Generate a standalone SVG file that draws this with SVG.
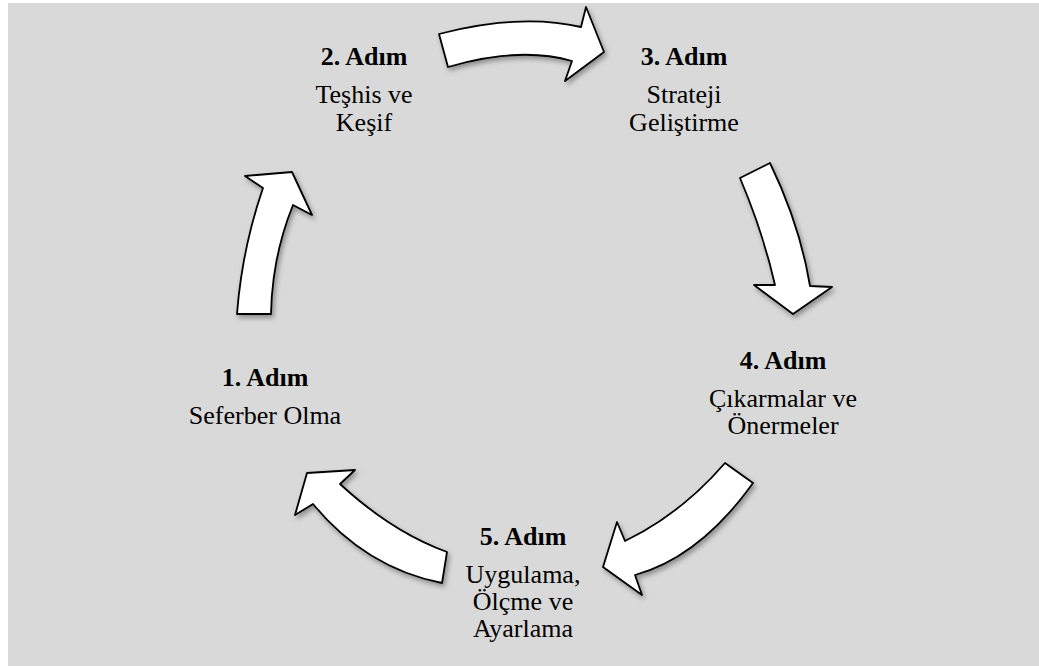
<svg xmlns="http://www.w3.org/2000/svg" width="1039" height="666" viewBox="0 0 1039 666">
  <defs>
    <filter id="sh" x="-20%" y="-20%" width="140%" height="140%">
      <feDropShadow dx="2" dy="3" stdDeviation="2.5" flood-color="#000" flood-opacity="0.35"/>
    </filter>
  </defs>
  <style>
    .arrow { fill: #ffffff; stroke: #000000; stroke-width: 1.8; stroke-linejoin: round; filter: url(#sh); }
    .title { font-family: "Liberation Serif", "Times New Roman", serif; font-size: 26px; font-weight: bold; fill: #000; text-anchor: middle; }
    .body { font-family: "Liberation Serif", "Times New Roman", serif; font-size: 26px; fill: #000; text-anchor: middle; }
  </style>
  <rect x="8" y="3" width="1031" height="663" fill="#d9d9d9"/>
  <g id="connectors">
    <path class="arrow" d="M439,34 Q520,13 581,27 L586,7 L604,52 L565,81 L572,61 Q520,46 448,67 Z"/>
    <path class="arrow" d="M770,163 Q800,225 810,286 L832,287 L793,314 L754,285 L775,285 Q763,232 740,178 Z"/>
    <path class="arrow" d="M753,483 Q700,557 635,575 L642,595 L603,567 L617,522 L625,541 Q681,514 725,463 Z"/>
    <path class="arrow" d="M442,583 Q366,568 313,504 L295,515 L307,473 L355,470 L340,484 Q392,532 447,552 Z"/>
    <path class="arrow" d="M237,314 Q242,249 263,188 L245,176 L292,172 L312,215 L293,205 Q272,257 271,314 Z"/>
  </g>
  <g id="step1">
    <text class="title" x="265" y="386">1. Adım</text>
    <text class="body" x="265" y="424">Seferber Olma</text>
  </g>
  <g id="step2">
    <text class="title" x="364" y="65">2. Adım</text>
    <text class="body" x="364" y="103">Teşhis ve</text>
    <text class="body" x="364" y="131">Keşif</text>
  </g>
  <g id="step3">
    <text class="title" x="684" y="65">3. Adım</text>
    <text class="body" x="684" y="103">Strateji</text>
    <text class="body" x="684" y="131">Geliştirme</text>
  </g>
  <g id="step4">
    <text class="title" x="783" y="369">4. Adım</text>
    <text class="body" x="783" y="407">Çıkarmalar ve</text>
    <text class="body" x="783" y="434">Önermeler</text>
  </g>
  <g id="step5">
    <text class="title" x="523" y="545">5. Adım</text>
    <text class="body" x="523" y="583">Uygulama,</text>
    <text class="body" x="523" y="610">Ölçme ve</text>
    <text class="body" x="523" y="637">Ayarlama</text>
  </g>
</svg>
